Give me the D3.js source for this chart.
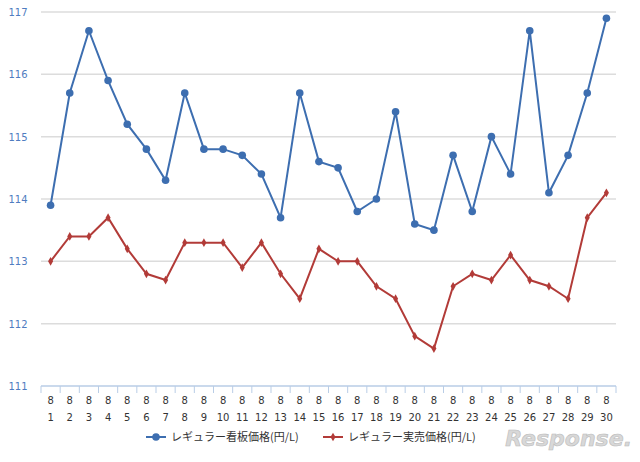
<!DOCTYPE html>
<html><head><meta charset="utf-8">
<script src="https://cdn.jsdelivr.net/npm/d3@7"></script>
<style>body{margin:0;background:#fff}text{font-family:"DejaVu Sans",sans-serif}</style>
</head><body>
<script>
var days = d3.range(1, 31);
var kanban = [113.9,115.7,116.7,115.9,115.2,114.8,114.3,115.7,114.8,114.8,114.7,114.4,113.7,115.7,114.6,
              114.5,113.8,114.0,115.4,113.6,113.5,114.7,113.8,115.0,114.4,116.7,114.1,114.7,115.7,116.9];
var jitsubai = [113.0,113.4,113.4,113.7,113.2,112.8,112.7,113.3,113.3,113.3,112.9,113.3,112.8,112.4,113.2,
                113.0,113.0,112.6,112.4,111.8,111.6,112.6,112.8,112.7,113.1,112.7,112.6,112.4,113.7,114.1];
var yTicks = [111,112,113,114,115,116,117];
var names = ["レギュラー看板価格(円/L)", "レギュラー実売価格(円/L)"];

function main() {
    var width = 640, height = 462;
    var svg = d3.select("body").append("svg").attr("width", width).attr("height", height);
    var x = d3.scaleBand().domain(days).range([41, 616]);
    var y = d3.scaleLinear().domain([111, 117]).range([386, 12]);

    svg.selectAll("line.grid").data(yTicks.slice(1)).enter().append("line")
        .attr("x1", 41).attr("x2", 616)
        .attr("y1", function(d) { return y(d); }).attr("y2", function(d) { return y(d); })
        .attr("stroke", "#dcdcdc").attr("stroke-width", 1.5);
    svg.selectAll("text.yt").data(yTicks).enter().append("text")
        .text(function(d) { return d; })
        .attr("x", 18).attr("y", function(d) { return y(d) + 4; })
        .attr("font-size", "10px").attr("fill", "#4f7cc0").attr("text-anchor", "middle");

    // x axis
    svg.append("line").attr("x1", 41).attr("x2", 616).attr("y1", 386).attr("y2", 386)
        .attr("stroke", "#b9cde6").attr("stroke-width", 1.5);
    svg.selectAll("line.xt").data(days.concat([31])).enter().append("line")
        .attr("x1", function(d) { return d <= 30 ? x(d) : 616; })
        .attr("x2", function(d) { return d <= 30 ? x(d) : 616; })
        .attr("y1", 386).attr("y2", 393).attr("stroke", "#b9cde6");
    var xl = svg.selectAll("text.xl").data(days).enter().append("text")
        .attr("x", function(d) { return x(d) + x.bandwidth() / 2; })
        .attr("font-size", "10px").attr("fill", "#333").attr("text-anchor", "middle");
    xl.append("tspan").attr("x", function(d) { return x(d) + x.bandwidth() / 2; }).attr("y", 404).text("8");
    xl.append("tspan").attr("x", function(d) { return x(d) + x.bandwidth() / 2; }).attr("y", 421).text(function(d) { return d; });

    var line = d3.line()
        .x(function(d, i) { return x(days[i]) + x.bandwidth() / 2; })
        .y(function(d) { return y(d); });
    var blue = "#3d6eb0", red = "#b23b38";
    svg.append("path").datum(kanban).attr("d", line).attr("fill", "none").attr("stroke", blue).attr("stroke-width", 2);
    svg.append("path").datum(jitsubai).attr("d", line).attr("fill", "none").attr("stroke", red).attr("stroke-width", 2);
    svg.selectAll("circle.k").data(kanban).enter().append("circle")
        .attr("cx", function(d, i) { return x(days[i]) + x.bandwidth() / 2; })
        .attr("cy", function(d) { return y(d); }).attr("r", 3.8).attr("fill", blue);
    svg.selectAll("path.j").data(jitsubai).enter().append("path")
        .attr("d", d3.symbol().type(d3.symbolDiamond).size(22))
        .attr("transform", function(d, i) { return "translate(" + (x(days[i]) + x.bandwidth() / 2) + "," + y(d) + ")"; })
        .attr("fill", red);

    // legend
    var lg = svg.append("g");
    lg.append("line").attr("x1", 146).attr("x2", 166).attr("y1", 437).attr("y2", 437).attr("stroke", blue).attr("stroke-width", 2);
    lg.append("circle").attr("cx", 156).attr("cy", 437).attr("r", 3.8).attr("fill", blue);
    lg.append("text").text(names[0]).attr("x", 171).attr("y", 441).attr("font-size", "11px").attr("fill", "#333")
        .style("font-family", "'Noto Sans CJK JP'");
    lg.append("line").attr("x1", 323).attr("x2", 343).attr("y1", 437).attr("y2", 437).attr("stroke", red).attr("stroke-width", 2);
    lg.append("path").attr("d", d3.symbol().type(d3.symbolDiamond).size(22)).attr("transform", "translate(333,437)").attr("fill", red);
    lg.append("text").text(names[1]).attr("x", 348).attr("y", 441).attr("font-size", "11px").attr("fill", "#333")
        .style("font-family", "'Noto Sans CJK JP'");

    svg.append("text").text("Response.").attr("x", 632).attr("y", 446).attr("text-anchor", "end")
        .attr("font-size", "22px").attr("font-style", "italic").attr("font-weight", "bold")
        .attr("fill", "#d8d8d8").attr("stroke", "#bbb").attr("stroke-width", 0.6);
}
window.onload = main;
</script>
</body></html>
